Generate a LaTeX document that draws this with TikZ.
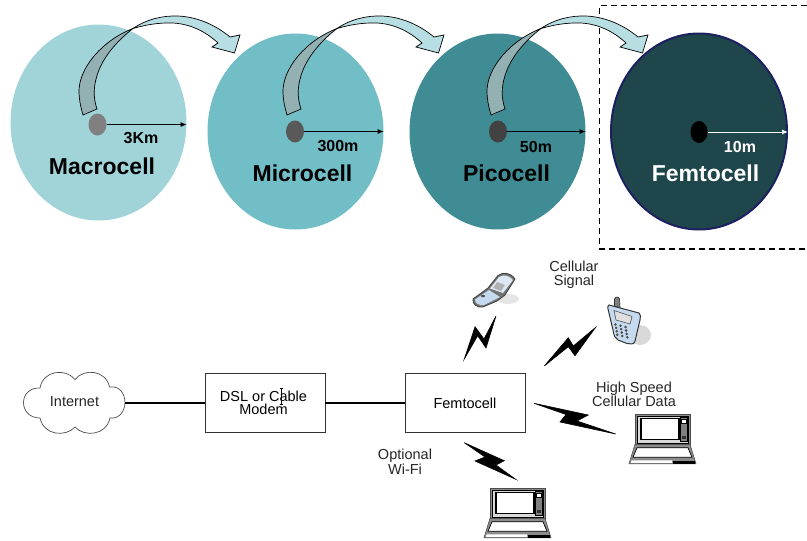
\documentclass[tikz,border=0pt]{standalone}
\usepackage{fontspec}
\setmainfont{Liberation Sans}
\usepackage{tikz}
\usetikzlibrary{positioning, shapes.geometric, arrows.meta}
\definecolor{macrocol}{HTML}{A0D4D9}
\definecolor{microcol}{HTML}{72BEC6}
\definecolor{picocol}{HTML}{3F8C94}
\definecolor{femtocol}{HTML}{1F474B}
\definecolor{femtoline}{HTML}{1C2060}
\definecolor{hoplight}{HTML}{B7DEE3}
\definecolor{hopdark}{HTML}{93B1B3}
\definecolor{phoneblue}{HTML}{C5DAEF}
\newcommand{\CellFont}{\fontsize{23}{26}\selectfont\bfseries}
\newcommand{\RangeFont}{\fontsize{16}{18}\selectfont\bfseries}
\newcommand{\NetFont}{\fontsize{14.5}{13.5}\selectfont}
\tikzset{
  cell/.style={ellipse, inner sep=0pt, minimum width=176pt, minimum height=196pt},
  station/.style={ellipse, inner sep=0pt, minimum width=18pt, minimum height=22pt},
  rangearrow/.style={line width=1pt, -{Latex[length=6pt,width=5pt]}},
  netbox/.style={draw=black!80, line width=0.9pt, minimum width=120pt, minimum height=59.5pt, inner sep=0pt, align=center, font=\NetFont},
  netlabel/.style={align=center, inner sep=0pt, text=black!85, font=\NetFont},
  wire/.style={line width=1.5pt},
  bolt/.style={fill=black, draw=black, line width=0.6pt},
  hop/.style={draw=black, line width=0.7pt},
  pics/laptop/.style={code={
    \draw[fill=black!45, draw=black!70, line width=0.6pt] (0,0) rectangle (55,30);
    \draw[fill=black!15, draw=black, line width=0.6pt] (2.5,2) rectangle (53,28.5);
    \draw[fill=white, draw=black, line width=1.2pt] (6,4) rectangle (44,25.5);
    \draw[fill=black!50, draw=black, line width=0.5pt] (45.5,3) rectangle (52,27);
    \draw[fill=white, draw=black, line width=0.5pt] (46.5,4.5) rectangle (51,8.5);
    \fill[black!80] (46.5,22) rectangle (50.5,25);
    \draw[fill=black!45, draw=black!70, line width=0.6pt] (0,30) -- (55,30) -- (61,49.5) -- (-6,49.5) -- cycle;
    \draw[fill=white, draw=black, line width=0.7pt] (2,33.5) -- (53,33.5) -- (57,43) -- (-2,43) -- cycle;
    \fill[white] (-3.5,46) -- (37,46) -- (37,48.5) -- (-4,48.5) -- cycle;
    \fill[black] (38,47) rectangle (60,49.5);
  }}
}
\begin{document}
\begin{tikzpicture}[x=1pt, y=-1pt]
  \useasboundingbox (0,0) rectangle (807,541);
  \draw [dashed, dash pattern=on 6pt off 4pt, line width=1.2pt] (807,5.5) -- (599.5,5.5) -- (599.5,249) -- (807,249);

  \node [cell, fill=macrocol] (macro) at (98.5,122.5) {};
  \node [cell, fill=microcol] (micro) at (295.5,131.5) {};
  \node [cell, fill=picocol] (pico) at (497.5,131.5) {};
  \node [cell, fill=femtocol, draw=femtoline, line width=2pt] (femto) at (699,131.5) {};

  \node [station, fill=black!50] (macroBS) at (97.5,124.5) {};
  \node [station, fill=black!65] (microBS) at (295,131.5) {};
  \node [station, fill=black!74] (picoBS) at (498,131.5) {};
  \node [station, fill=black, minimum width=17pt] (femtoBS) at (699,132) {};

  \draw [rangearrow] (macroBS.east) -- (macroBS -| macro.east);
  \draw [rangearrow] (microBS.east) -- (microBS -| micro.east);
  \draw [rangearrow] (picoBS.east) -- (picoBS -| pico.east);
  \draw [rangearrow, white] (femtoBS.east) -- (femtoBS -| femto.east);

  \foreach \hopx in {0, 204, 408} {
    \begin{scope}[xshift=\hopx pt]
      \draw [hop, fill=hoplight] (133,28.5) .. controls (147,19) and (163,15.5) .. (178,16) .. controls (200,17) and (218,27) .. (230,37) -- (240,35) -- (234.5,53) -- (212,47) -- (218,43) .. controls (205,31) and (190,24) .. (173,23) .. controls (158,22.5) and (145,25) .. (133,28.5) -- cycle;
      \draw [hop, fill=hopdark] (133,28.5) .. controls (103,40) and (78,68) .. (79,93) .. controls (79.5,102) and (81,108) .. (83,115) -- (97,109) .. controls (93,97) and (93,85) .. (99,70) .. controls (105,55) and (118,40) .. (133,28.5) -- cycle;
    \end{scope}
  }

  \node [font=\CellFont] (macroL) at (102,166) {Macrocell};
  \node [font=\CellFont] (microL) at (302.5,173.5) {Microcell};
  \node [font=\CellFont] (picoL) at (506.5,173.5) {Picocell};
  \node [font=\CellFont, text=white] (femtoL) at (705.5,173.5) {Femtocell};
  \node [font=\RangeFont] (macroR) at (141,138) {3Km};
  \node [font=\RangeFont] (microR) at (338,146.5) {300m};
  \node [font=\RangeFont] (picoR) at (536,146.5) {50m};
  \node [font=\RangeFont, text=white] (femtoR) at (740,146.5) {10m};

  % cloud
  \draw [draw=black!70, line width=0.7pt] (40,388) .. controls (43,370) and (66,368) .. (75,379.5) .. controls (84,368) and (106,370) .. (109.5,387) .. controls (130,384) and (130,420) .. (110,418) .. controls (106,436) and (84,437) .. (75,427) .. controls (66,437) and (44,436) .. (40,418) .. controls (18,418) and (18,387) .. (40,388) -- cycle;
  \node [netlabel, minimum width=101pt, minimum height=60pt] (internet) at (74.5,402) {Internet};
  \node [netbox] (modem) at (265,403) {DSL or Cable\hspace*{3pt}\\Modem\hspace*{3pt}};
  \node [netbox] (femtobox) at (465,403) {Femtocell};
  \draw [wire] (internet.east |- femtobox) -- (modem.west);
  \draw [wire] (modem.east) -- (femtobox.west);
  \draw [line width=0.5pt] (281,388) -- (281,404) (279.5,388) -- (282.5,388) (279.5,404) -- (282.5,404);

  \node [netlabel] (signalL) at (574,274.5) {Cellular\\Signal};
  \node [netlabel] (dataL) at (634,394.5) {High Speed\\Cellular Data};
  \node [netlabel] (wifiL) at (405,462) {Optional\\Wi-Fi};

  % bolts
  \filldraw [bolt] (496,316) -- (486,348) -- (477.7,335.7) -- (464.3,359) -- (475,326.7) -- (484,339) -- cycle;
  \filldraw [bolt] (595.7,327.3) -- (575,355.7) -- (568.3,346.7) -- (544.3,366) -- (568.3,337.7) -- (573.3,346) -- cycle;
  \filldraw [bolt] (534,403.3) -- (588.3,415) -- (577,421) -- (615.7,434) -- (560,422) -- (566,414.5) -- cycle;
  \filldraw [bolt] (464.3,442.7) -- (504.3,460.7) -- (496,465) -- (515.7,479.3) -- (475,461) -- (485,457) -- cycle;

  \pic at (490,488.3) {laptop};
  \pic at (635,414.3) {laptop};

  % flip phone
  \fill [black!10] (508,299) ellipse [x radius=11pt, y radius=5pt];
  \draw [fill=black!55, draw=black!75, line width=0.8pt] (473,299) -- (488,288) -- (498,275.5) .. controls (503,272) and (510,272) .. (515,279) -- (505,295) -- (497,301) -- (483,307) .. controls (477,308) and (472,304) .. (473,299) -- cycle;
  \fill [phoneblue] (475,299.5) -- (489,290) -- (500,297) -- (484,305) .. controls (479,306) and (475,303) .. (475,299.5) -- cycle;
  \fill [phoneblue!60!white] (490,288.5) -- (499,277) .. controls (503,274.5) and (509,275) .. (513,280) -- (503,293) -- cycle;
  \fill [black!30] (497,282) -- (505,285) -- (501,291) -- (493,288) -- cycle;
  \fill [black!70] (483,296) ellipse [x radius=2pt, y radius=1.2pt];

  % candy bar phone
  \fill [black!15] (640,335) ellipse [x radius=11pt, y radius=10pt];
  \draw [fill=black!50, draw=black!80, line width=0.7pt] (614.5,306) -- (614.5,299) .. controls (615,296.5) and (619,296.5) .. (619.5,299) -- (620,308) -- cycle;
  \draw [fill=phoneblue, draw=black!80, line width=1pt] (609,305) -- (639,313) .. controls (641,314) and (640.5,317) .. (640,320) -- (635,341) .. controls (634,345) and (630,344) .. (627,343.5) -- (618,340) .. controls (615,338) and (614,336) .. (613,330) -- (608,309) .. controls (607.5,307) and (608,305.5) .. (609,305) -- cycle;
  \draw [fill=black!12, draw=black!70, line width=0.6pt] (614,310.5) -- (632,316.5) -- (630,324) -- (616,320) -- cycle;
  \foreach \keyx in {0,1,2} {
    \foreach \keyy in {0,1,2,3} {
      \fill [black!70] (615.5+\keyx*5+\keyy*0.6, 324.5+\keyy*3.4+\keyx*1.3) circle [radius=1.4pt];
    }
  }
\end{tikzpicture}
\end{document}
